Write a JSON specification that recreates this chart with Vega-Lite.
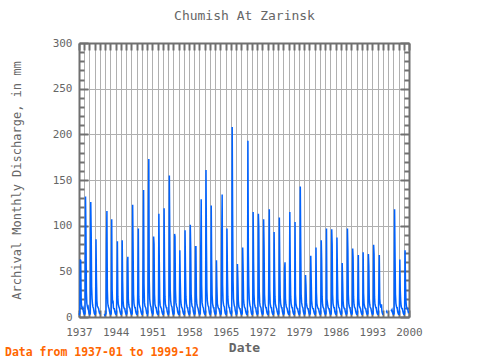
{
"$schema": "https://vega.github.io/schema/vega-lite/v6.json",
"width": 330, "height": 274,
"autosize": "none",
"padding": {"left": 79, "top": 43, "right": 71, "bottom": 43},
"background": "white",
"title": {"text": "Data from 1937-01 to 1999-12", "orient": "bottom", "anchor": "start", "frame": "group", "dx": -74, "dy": -7, "offset": 0, "font": "DejaVu Sans Mono", "fontSize": 11.5, "fontWeight": "bold", "color": "#ff6600"},
"config": {"view": {"stroke": null}, "axis": {"domainColor": "#707070", "domainWidth": 2, "tickColor": "#707070", "tickWidth": 2, "gridColor": "#b0b0b0", "gridWidth": 1, "labelFont": "DejaVu Sans Mono", "labelFontSize": 11, "labelColor": "#666666", "titleFont": "DejaVu Sans Mono", "titleColor": "#666666", "labelFlush": false}},
"data": {"values": [
{"d":"1937-01","v":4},{"d":"1937-02","v":3},{"d":"1937-03","v":4},{"d":"1937-04","v":63},{"d":"1937-05","v":62},{"d":"1937-06","v":20},{"d":"1937-07","v":12},{"d":"1937-08","v":10},{"d":"1937-09","v":9},{"d":"1937-10","v":10},{"d":"1937-11","v":6},{"d":"1937-12","v":4},
{"d":"1938-01","v":3},{"d":"1938-02","v":3},{"d":"1938-03","v":4},{"d":"1938-04","v":132},{"d":"1938-05","v":94},{"d":"1938-06","v":28},{"d":"1938-07","v":15},{"d":"1938-08","v":12},{"d":"1938-09","v":10},{"d":"1938-10","v":11},{"d":"1938-11","v":7},{"d":"1938-12","v":4},
{"d":"1939-01","v":3},{"d":"1939-02","v":3},{"d":"1939-03","v":4},{"d":"1939-04","v":126},{"d":"1939-05","v":92},{"d":"1939-06","v":33},{"d":"1939-07","v":20},{"d":"1939-08","v":14},{"d":"1939-09","v":11},{"d":"1939-10","v":10},{"d":"1939-11","v":7},{"d":"1939-12","v":4},
{"d":"1940-01","v":3},{"d":"1940-02","v":3},{"d":"1940-03","v":4},{"d":"1940-04","v":85},{"d":"1940-05","v":42},{"d":"1940-06","v":18},{"d":"1940-07","v":12},{"d":"1940-08","v":11},{"d":"1940-09","v":10},{"d":"1940-10","v":9},{"d":"1940-11","v":6},{"d":"1940-12","v":4},
{"d":"1941-01","v":3},{"d":"1941-02","v":null},{"d":"1941-03","v":null},{"d":"1941-04","v":null},{"d":"1941-05","v":null},{"d":"1941-06","v":null},{"d":"1941-07","v":null},{"d":"1941-08","v":null},{"d":"1941-09","v":null},{"d":"1941-10","v":null},{"d":"1941-11","v":3},{"d":"1941-12","v":2},
{"d":"1942-01","v":3},{"d":"1942-02","v":3},{"d":"1942-03","v":4},{"d":"1942-04","v":79},{"d":"1942-05","v":116},{"d":"1942-06","v":30},{"d":"1942-07","v":15},{"d":"1942-08","v":12},{"d":"1942-09","v":10},{"d":"1942-10","v":9},{"d":"1942-11","v":6},{"d":"1942-12","v":4},
{"d":"1943-01","v":3},{"d":"1943-02","v":3},{"d":"1943-03","v":4},{"d":"1943-04","v":107},{"d":"1943-05","v":30},{"d":"1943-06","v":15},{"d":"1943-07","v":18},{"d":"1943-08","v":10},{"d":"1943-09","v":9},{"d":"1943-10","v":9},{"d":"1943-11","v":6},{"d":"1943-12","v":4},
{"d":"1944-01","v":3},{"d":"1944-02","v":3},{"d":"1944-03","v":4},{"d":"1944-04","v":41},{"d":"1944-05","v":83},{"d":"1944-06","v":22},{"d":"1944-07","v":14},{"d":"1944-08","v":12},{"d":"1944-09","v":10},{"d":"1944-10","v":9},{"d":"1944-11","v":6},{"d":"1944-12","v":4},
{"d":"1945-01","v":3},{"d":"1945-02","v":3},{"d":"1945-03","v":4},{"d":"1945-04","v":84},{"d":"1945-05","v":40},{"d":"1945-06","v":18},{"d":"1945-07","v":12},{"d":"1945-08","v":10},{"d":"1945-09","v":9},{"d":"1945-10","v":9},{"d":"1945-11","v":6},{"d":"1945-12","v":4},
{"d":"1946-01","v":3},{"d":"1946-02","v":3},{"d":"1946-03","v":4},{"d":"1946-04","v":61},{"d":"1946-05","v":66},{"d":"1946-06","v":20},{"d":"1946-07","v":14},{"d":"1946-08","v":11},{"d":"1946-09","v":10},{"d":"1946-10","v":9},{"d":"1946-11","v":6},{"d":"1946-12","v":4},
{"d":"1947-01","v":3},{"d":"1947-02","v":3},{"d":"1947-03","v":4},{"d":"1947-04","v":123},{"d":"1947-05","v":76},{"d":"1947-06","v":25},{"d":"1947-07","v":15},{"d":"1947-08","v":12},{"d":"1947-09","v":10},{"d":"1947-10","v":10},{"d":"1947-11","v":6},{"d":"1947-12","v":4},
{"d":"1948-01","v":3},{"d":"1948-02","v":3},{"d":"1948-03","v":4},{"d":"1948-04","v":48},{"d":"1948-05","v":97},{"d":"1948-06","v":22},{"d":"1948-07","v":14},{"d":"1948-08","v":12},{"d":"1948-09","v":10},{"d":"1948-10","v":9},{"d":"1948-11","v":6},{"d":"1948-12","v":4},
{"d":"1949-01","v":3},{"d":"1949-02","v":3},{"d":"1949-03","v":5},{"d":"1949-04","v":69},{"d":"1949-05","v":139},{"d":"1949-06","v":36},{"d":"1949-07","v":16},{"d":"1949-08","v":12},{"d":"1949-09","v":11},{"d":"1949-10","v":10},{"d":"1949-11","v":7},{"d":"1949-12","v":4},
{"d":"1950-01","v":4},{"d":"1950-02","v":3},{"d":"1950-03","v":5},{"d":"1950-04","v":112},{"d":"1950-05","v":173},{"d":"1950-06","v":40},{"d":"1950-07","v":20},{"d":"1950-08","v":15},{"d":"1950-09","v":12},{"d":"1950-10","v":11},{"d":"1950-11","v":7},{"d":"1950-12","v":5},
{"d":"1951-01","v":4},{"d":"1951-02","v":3},{"d":"1951-03","v":4},{"d":"1951-04","v":88},{"d":"1951-05","v":80},{"d":"1951-06","v":25},{"d":"1951-07","v":14},{"d":"1951-08","v":12},{"d":"1951-09","v":10},{"d":"1951-10","v":10},{"d":"1951-11","v":6},{"d":"1951-12","v":4},
{"d":"1952-01","v":3},{"d":"1952-02","v":3},{"d":"1952-03","v":4},{"d":"1952-04","v":113},{"d":"1952-05","v":60},{"d":"1952-06","v":20},{"d":"1952-07","v":13},{"d":"1952-08","v":11},{"d":"1952-09","v":10},{"d":"1952-10","v":9},{"d":"1952-11","v":6},{"d":"1952-12","v":4},
{"d":"1953-01","v":3},{"d":"1953-02","v":3},{"d":"1953-03","v":4},{"d":"1953-04","v":119},{"d":"1953-05","v":55},{"d":"1953-06","v":22},{"d":"1953-07","v":14},{"d":"1953-08","v":12},{"d":"1953-09","v":10},{"d":"1953-10","v":10},{"d":"1953-11","v":6},{"d":"1953-12","v":4},
{"d":"1954-01","v":3},{"d":"1954-02","v":3},{"d":"1954-03","v":5},{"d":"1954-04","v":155},{"d":"1954-05","v":95},{"d":"1954-06","v":30},{"d":"1954-07","v":18},{"d":"1954-08","v":14},{"d":"1954-09","v":12},{"d":"1954-10","v":11},{"d":"1954-11","v":7},{"d":"1954-12","v":4},
{"d":"1955-01","v":3},{"d":"1955-02","v":3},{"d":"1955-03","v":4},{"d":"1955-04","v":91},{"d":"1955-05","v":88},{"d":"1955-06","v":30},{"d":"1955-07","v":16},{"d":"1955-08","v":13},{"d":"1955-09","v":11},{"d":"1955-10","v":10},{"d":"1955-11","v":6},{"d":"1955-12","v":4},
{"d":"1956-01","v":3},{"d":"1956-02","v":3},{"d":"1956-03","v":4},{"d":"1956-04","v":73},{"d":"1956-05","v":40},{"d":"1956-06","v":20},{"d":"1956-07","v":14},{"d":"1956-08","v":11},{"d":"1956-09","v":10},{"d":"1956-10","v":9},{"d":"1956-11","v":6},{"d":"1956-12","v":4},
{"d":"1957-01","v":3},{"d":"1957-02","v":3},{"d":"1957-03","v":4},{"d":"1957-04","v":95},{"d":"1957-05","v":52},{"d":"1957-06","v":22},{"d":"1957-07","v":15},{"d":"1957-08","v":12},{"d":"1957-09","v":10},{"d":"1957-10","v":10},{"d":"1957-11","v":6},{"d":"1957-12","v":4},
{"d":"1958-01","v":3},{"d":"1958-02","v":3},{"d":"1958-03","v":4},{"d":"1958-04","v":101},{"d":"1958-05","v":75},{"d":"1958-06","v":25},{"d":"1958-07","v":16},{"d":"1958-08","v":12},{"d":"1958-09","v":11},{"d":"1958-10","v":10},{"d":"1958-11","v":6},{"d":"1958-12","v":4},
{"d":"1959-01","v":3},{"d":"1959-02","v":3},{"d":"1959-03","v":4},{"d":"1959-04","v":77},{"d":"1959-05","v":77},{"d":"1959-06","v":22},{"d":"1959-07","v":14},{"d":"1959-08","v":12},{"d":"1959-09","v":10},{"d":"1959-10","v":9},{"d":"1959-11","v":6},{"d":"1959-12","v":4},
{"d":"1960-01","v":3},{"d":"1960-02","v":3},{"d":"1960-03","v":4},{"d":"1960-04","v":77},{"d":"1960-05","v":129},{"d":"1960-06","v":35},{"d":"1960-07","v":16},{"d":"1960-08","v":13},{"d":"1960-09","v":11},{"d":"1960-10","v":10},{"d":"1960-11","v":6},{"d":"1960-12","v":4},
{"d":"1961-01","v":3},{"d":"1961-02","v":3},{"d":"1961-03","v":5},{"d":"1961-04","v":161},{"d":"1961-05","v":80},{"d":"1961-06","v":30},{"d":"1961-07","v":18},{"d":"1961-08","v":14},{"d":"1961-09","v":12},{"d":"1961-10","v":11},{"d":"1961-11","v":7},{"d":"1961-12","v":4},
{"d":"1962-01","v":3},{"d":"1962-02","v":3},{"d":"1962-03","v":5},{"d":"1962-04","v":122},{"d":"1962-05","v":60},{"d":"1962-06","v":24},{"d":"1962-07","v":15},{"d":"1962-08","v":12},{"d":"1962-09","v":10},{"d":"1962-10","v":10},{"d":"1962-11","v":6},{"d":"1962-12","v":4},
{"d":"1963-01","v":3},{"d":"1963-02","v":3},{"d":"1963-03","v":4},{"d":"1963-04","v":62},{"d":"1963-05","v":33},{"d":"1963-06","v":15},{"d":"1963-07","v":12},{"d":"1963-08","v":10},{"d":"1963-09","v":9},{"d":"1963-10","v":9},{"d":"1963-11","v":6},{"d":"1963-12","v":4},
{"d":"1964-01","v":3},{"d":"1964-02","v":3},{"d":"1964-03","v":4},{"d":"1964-04","v":91},{"d":"1964-05","v":134},{"d":"1964-06","v":35},{"d":"1964-07","v":18},{"d":"1964-08","v":14},{"d":"1964-09","v":12},{"d":"1964-10","v":11},{"d":"1964-11","v":7},{"d":"1964-12","v":4},
{"d":"1965-01","v":3},{"d":"1965-02","v":3},{"d":"1965-03","v":4},{"d":"1965-04","v":97},{"d":"1965-05","v":51},{"d":"1965-06","v":22},{"d":"1965-07","v":15},{"d":"1965-08","v":12},{"d":"1965-09","v":10},{"d":"1965-10","v":10},{"d":"1965-11","v":6},{"d":"1965-12","v":4},
{"d":"1966-01","v":4},{"d":"1966-02","v":3},{"d":"1966-03","v":5},{"d":"1966-04","v":208},{"d":"1966-05","v":112},{"d":"1966-06","v":40},{"d":"1966-07","v":20},{"d":"1966-08","v":15},{"d":"1966-09","v":12},{"d":"1966-10","v":11},{"d":"1966-11","v":7},{"d":"1966-12","v":5},
{"d":"1967-01","v":3},{"d":"1967-02","v":3},{"d":"1967-03","v":4},{"d":"1967-04","v":58},{"d":"1967-05","v":42},{"d":"1967-06","v":18},{"d":"1967-07","v":12},{"d":"1967-08","v":10},{"d":"1967-09","v":9},{"d":"1967-10","v":9},{"d":"1967-11","v":6},{"d":"1967-12","v":4},
{"d":"1968-01","v":3},{"d":"1968-02","v":3},{"d":"1968-03","v":4},{"d":"1968-04","v":76},{"d":"1968-05","v":53},{"d":"1968-06","v":20},{"d":"1968-07","v":14},{"d":"1968-08","v":11},{"d":"1968-09","v":10},{"d":"1968-10","v":9},{"d":"1968-11","v":6},{"d":"1968-12","v":4},
{"d":"1969-01","v":3},{"d":"1969-02","v":3},{"d":"1969-03","v":5},{"d":"1969-04","v":193},{"d":"1969-05","v":70},{"d":"1969-06","v":35},{"d":"1969-07","v":20},{"d":"1969-08","v":15},{"d":"1969-09","v":12},{"d":"1969-10","v":11},{"d":"1969-11","v":7},{"d":"1969-12","v":4},
{"d":"1970-01","v":3},{"d":"1970-02","v":3},{"d":"1970-03","v":4},{"d":"1970-04","v":115},{"d":"1970-05","v":60},{"d":"1970-06","v":25},{"d":"1970-07","v":15},{"d":"1970-08","v":12},{"d":"1970-09","v":10},{"d":"1970-10","v":10},{"d":"1970-11","v":6},{"d":"1970-12","v":4},
{"d":"1971-01","v":3},{"d":"1971-02","v":3},{"d":"1971-03","v":4},{"d":"1971-04","v":113},{"d":"1971-05","v":98},{"d":"1971-06","v":28},{"d":"1971-07","v":16},{"d":"1971-08","v":12},{"d":"1971-09","v":11},{"d":"1971-10","v":10},{"d":"1971-11","v":6},{"d":"1971-12","v":4},
{"d":"1972-01","v":3},{"d":"1972-02","v":3},{"d":"1972-03","v":4},{"d":"1972-04","v":107},{"d":"1972-05","v":78},{"d":"1972-06","v":25},{"d":"1972-07","v":15},{"d":"1972-08","v":12},{"d":"1972-09","v":10},{"d":"1972-10","v":10},{"d":"1972-11","v":6},{"d":"1972-12","v":4},
{"d":"1973-01","v":3},{"d":"1973-02","v":3},{"d":"1973-03","v":4},{"d":"1973-04","v":60},{"d":"1973-05","v":118},{"d":"1973-06","v":30},{"d":"1973-07","v":15},{"d":"1973-08","v":12},{"d":"1973-09","v":10},{"d":"1973-10","v":10},{"d":"1973-11","v":6},{"d":"1973-12","v":4},
{"d":"1974-01","v":3},{"d":"1974-02","v":3},{"d":"1974-03","v":4},{"d":"1974-04","v":93},{"d":"1974-05","v":50},{"d":"1974-06","v":22},{"d":"1974-07","v":14},{"d":"1974-08","v":12},{"d":"1974-09","v":10},{"d":"1974-10","v":9},{"d":"1974-11","v":6},{"d":"1974-12","v":4},
{"d":"1975-01","v":3},{"d":"1975-02","v":3},{"d":"1975-03","v":4},{"d":"1975-04","v":109},{"d":"1975-05","v":60},{"d":"1975-06","v":22},{"d":"1975-07","v":15},{"d":"1975-08","v":12},{"d":"1975-09","v":10},{"d":"1975-10","v":10},{"d":"1975-11","v":6},{"d":"1975-12","v":4},
{"d":"1976-01","v":3},{"d":"1976-02","v":3},{"d":"1976-03","v":4},{"d":"1976-04","v":53},{"d":"1976-05","v":60},{"d":"1976-06","v":20},{"d":"1976-07","v":14},{"d":"1976-08","v":11},{"d":"1976-09","v":10},{"d":"1976-10","v":9},{"d":"1976-11","v":6},{"d":"1976-12","v":4},
{"d":"1977-01","v":3},{"d":"1977-02","v":3},{"d":"1977-03","v":4},{"d":"1977-04","v":115},{"d":"1977-05","v":55},{"d":"1977-06","v":22},{"d":"1977-07","v":15},{"d":"1977-08","v":12},{"d":"1977-09","v":10},{"d":"1977-10","v":10},{"d":"1977-11","v":6},{"d":"1977-12","v":4},
{"d":"1978-01","v":3},{"d":"1978-02","v":3},{"d":"1978-03","v":4},{"d":"1978-04","v":104},{"d":"1978-05","v":25},{"d":"1978-06","v":15},{"d":"1978-07","v":12},{"d":"1978-08","v":10},{"d":"1978-09","v":9},{"d":"1978-10","v":9},{"d":"1978-11","v":6},{"d":"1978-12","v":4},
{"d":"1979-01","v":3},{"d":"1979-02","v":3},{"d":"1979-03","v":4},{"d":"1979-04","v":143},{"d":"1979-05","v":79},{"d":"1979-06","v":25},{"d":"1979-07","v":16},{"d":"1979-08","v":13},{"d":"1979-09","v":11},{"d":"1979-10","v":10},{"d":"1979-11","v":6},{"d":"1979-12","v":4},
{"d":"1980-01","v":3},{"d":"1980-02","v":3},{"d":"1980-03","v":4},{"d":"1980-04","v":46},{"d":"1980-05","v":35},{"d":"1980-06","v":16},{"d":"1980-07","v":12},{"d":"1980-08","v":10},{"d":"1980-09","v":9},{"d":"1980-10","v":9},{"d":"1980-11","v":6},{"d":"1980-12","v":4},
{"d":"1981-01","v":3},{"d":"1981-02","v":3},{"d":"1981-03","v":4},{"d":"1981-04","v":67},{"d":"1981-05","v":41},{"d":"1981-06","v":18},{"d":"1981-07","v":13},{"d":"1981-08","v":10},{"d":"1981-09","v":9},{"d":"1981-10","v":9},{"d":"1981-11","v":6},{"d":"1981-12","v":4},
{"d":"1982-01","v":3},{"d":"1982-02","v":3},{"d":"1982-03","v":4},{"d":"1982-04","v":76},{"d":"1982-05","v":27},{"d":"1982-06","v":15},{"d":"1982-07","v":12},{"d":"1982-08","v":10},{"d":"1982-09","v":9},{"d":"1982-10","v":9},{"d":"1982-11","v":6},{"d":"1982-12","v":4},
{"d":"1983-01","v":3},{"d":"1983-02","v":3},{"d":"1983-03","v":4},{"d":"1983-04","v":84},{"d":"1983-05","v":62},{"d":"1983-06","v":22},{"d":"1983-07","v":14},{"d":"1983-08","v":11},{"d":"1983-09","v":10},{"d":"1983-10","v":9},{"d":"1983-11","v":6},{"d":"1983-12","v":4},
{"d":"1984-01","v":3},{"d":"1984-02","v":3},{"d":"1984-03","v":4},{"d":"1984-04","v":97},{"d":"1984-05","v":20},{"d":"1984-06","v":16},{"d":"1984-07","v":12},{"d":"1984-08","v":10},{"d":"1984-09","v":9},{"d":"1984-10","v":9},{"d":"1984-11","v":6},{"d":"1984-12","v":4},
{"d":"1985-01","v":3},{"d":"1985-02","v":3},{"d":"1985-03","v":4},{"d":"1985-04","v":96},{"d":"1985-05","v":79},{"d":"1985-06","v":25},{"d":"1985-07","v":15},{"d":"1985-08","v":12},{"d":"1985-09","v":10},{"d":"1985-10","v":10},{"d":"1985-11","v":6},{"d":"1985-12","v":4},
{"d":"1986-01","v":3},{"d":"1986-02","v":3},{"d":"1986-03","v":4},{"d":"1986-04","v":87},{"d":"1986-05","v":49},{"d":"1986-06","v":20},{"d":"1986-07","v":14},{"d":"1986-08","v":11},{"d":"1986-09","v":10},{"d":"1986-10","v":9},{"d":"1986-11","v":6},{"d":"1986-12","v":4},
{"d":"1987-01","v":3},{"d":"1987-02","v":3},{"d":"1987-03","v":4},{"d":"1987-04","v":59},{"d":"1987-05","v":40},{"d":"1987-06","v":18},{"d":"1987-07","v":12},{"d":"1987-08","v":10},{"d":"1987-09","v":9},{"d":"1987-10","v":9},{"d":"1987-11","v":6},{"d":"1987-12","v":4},
{"d":"1988-01","v":3},{"d":"1988-02","v":3},{"d":"1988-03","v":4},{"d":"1988-04","v":97},{"d":"1988-05","v":74},{"d":"1988-06","v":25},{"d":"1988-07","v":15},{"d":"1988-08","v":12},{"d":"1988-09","v":10},{"d":"1988-10","v":10},{"d":"1988-11","v":6},{"d":"1988-12","v":4},
{"d":"1989-01","v":3},{"d":"1989-02","v":3},{"d":"1989-03","v":4},{"d":"1989-04","v":75},{"d":"1989-05","v":65},{"d":"1989-06","v":22},{"d":"1989-07","v":14},{"d":"1989-08","v":11},{"d":"1989-09","v":10},{"d":"1989-10","v":9},{"d":"1989-11","v":6},{"d":"1989-12","v":4},
{"d":"1990-01","v":3},{"d":"1990-02","v":3},{"d":"1990-03","v":4},{"d":"1990-04","v":35},{"d":"1990-05","v":68},{"d":"1990-06","v":20},{"d":"1990-07","v":13},{"d":"1990-08","v":11},{"d":"1990-09","v":10},{"d":"1990-10","v":9},{"d":"1990-11","v":6},{"d":"1990-12","v":4},
{"d":"1991-01","v":3},{"d":"1991-02","v":3},{"d":"1991-03","v":4},{"d":"1991-04","v":71},{"d":"1991-05","v":26},{"d":"1991-06","v":15},{"d":"1991-07","v":12},{"d":"1991-08","v":10},{"d":"1991-09","v":9},{"d":"1991-10","v":9},{"d":"1991-11","v":6},{"d":"1991-12","v":4},
{"d":"1992-01","v":3},{"d":"1992-02","v":3},{"d":"1992-03","v":4},{"d":"1992-04","v":69},{"d":"1992-05","v":56},{"d":"1992-06","v":20},{"d":"1992-07","v":14},{"d":"1992-08","v":11},{"d":"1992-09","v":10},{"d":"1992-10","v":9},{"d":"1992-11","v":6},{"d":"1992-12","v":4},
{"d":"1993-01","v":3},{"d":"1993-02","v":3},{"d":"1993-03","v":4},{"d":"1993-04","v":79},{"d":"1993-05","v":69},{"d":"1993-06","v":22},{"d":"1993-07","v":14},{"d":"1993-08","v":12},{"d":"1993-09","v":10},{"d":"1993-10","v":10},{"d":"1993-11","v":6},{"d":"1993-12","v":4},
{"d":"1994-01","v":3},{"d":"1994-02","v":3},{"d":"1994-03","v":4},{"d":"1994-04","v":35},{"d":"1994-05","v":68},{"d":"1994-06","v":20},{"d":"1994-07","v":14},{"d":"1994-08","v":12},{"d":"1994-09","v":10},{"d":"1994-10","v":14},{"d":"1994-11","v":6},{"d":"1994-12","v":4},
{"d":"1995-01","v":3},{"d":"1995-02","v":3},{"d":"1995-03","v":null},{"d":"1995-04","v":null},{"d":"1995-05","v":null},{"d":"1995-06","v":null},{"d":"1995-07","v":null},{"d":"1995-08","v":null},{"d":"1995-09","v":5},{"d":"1995-10","v":6},{"d":"1995-11","v":4},{"d":"1995-12","v":null},
{"d":"1996-01","v":null},{"d":"1996-02","v":null},{"d":"1996-03","v":null},{"d":"1996-04","v":null},{"d":"1996-05","v":null},{"d":"1996-06","v":null},{"d":"1996-07","v":null},{"d":"1996-08","v":8},{"d":"1996-09","v":7},{"d":"1996-10","v":8},{"d":"1996-11","v":5},{"d":"1996-12","v":4},
{"d":"1997-01","v":3},{"d":"1997-02","v":3},{"d":"1997-03","v":4},{"d":"1997-04","v":118},{"d":"1997-05","v":71},{"d":"1997-06","v":25},{"d":"1997-07","v":15},{"d":"1997-08","v":12},{"d":"1997-09","v":10},{"d":"1997-10","v":10},{"d":"1997-11","v":6},{"d":"1997-12","v":4},
{"d":"1998-01","v":3},{"d":"1998-02","v":3},{"d":"1998-03","v":4},{"d":"1998-04","v":63},{"d":"1998-05","v":30},{"d":"1998-06","v":18},{"d":"1998-07","v":12},{"d":"1998-08","v":10},{"d":"1998-09","v":9},{"d":"1998-10","v":9},{"d":"1998-11","v":6},{"d":"1998-12","v":4},
{"d":"1999-01","v":3},{"d":"1999-02","v":3},{"d":"1999-03","v":4},{"d":"1999-04","v":73},{"d":"1999-05","v":38},{"d":"1999-06","v":18},{"d":"1999-07","v":12},{"d":"1999-08","v":10},{"d":"1999-09","v":9},{"d":"1999-10","v":9},{"d":"1999-11","v":6},{"d":"1999-12","v":4}
]},
"layer": [
{"mark": {"type": "line", "color": "#0062ff", "strokeWidth": 1.5, "invalid": "break-paths-filter-domains"},
 "encoding": {
  "x": {"field": "d", "type": "temporal", "scale": {"type": "utc", "domain": [{"year": 1937, "utc": true}, {"year": 2000, "utc": true}]},
        "axis": {"orient": "bottom", "tickCount": {"interval": "year", "step": 1}, "tickSize": -7, "labelPadding": 16, "grid": true, "labelOverlap": false, "labelExpr": "(utcyear(datum.value) - 1937) % 7 === 0 ? utcFormat(datum.value, '%Y') : ''", "title": "Date", "titleFontSize": 13, "titleFontWeight": "bold", "titlePadding": 4}},
  "y": {"field": "v", "type": "quantitative", "scale": {"domain": [0, 300]},
        "axis": {"orient": "left", "values": [0,10,20,30,40,50,60,70,80,90,100,110,120,130,140,150,160,170,180,190,200,210,220,230,240,250,260,270,280,290,300], "tickSize": {"condition": {"test": "datum.value % 50 === 0", "value": -9}, "value": -5}, "gridOpacity": {"condition": {"test": "datum.value % 50 === 0", "value": 1}, "value": 0}, "grid": true, "labelPadding": 16, "labelExpr": "datum.value % 50 === 0 ? datum.label : ''", "title": "Archival Monthly Discharge, in mm", "titleFontSize": 12, "titleFontWeight": "normal", "titlePadding": 29}}
 }},
{"mark": {"type": "line", "opacity": 0, "invalid": "break-paths-filter-domains"},
 "encoding": {
  "x": {"field": "d", "type": "temporal", "axis": {"orient": "top", "tickCount": {"interval": "year", "step": 1}, "tickSize": -7, "labels": false, "grid": false, "title": "Chumish At Zarinsk", "titleFontSize": 13, "titleFontWeight": "normal", "titlePadding": 20}},
  "y": {"field": "v", "type": "quantitative", "axis": {"orient": "right", "values": [0,10,20,30,40,50,60,70,80,90,100,110,120,130,140,150,160,170,180,190,200,210,220,230,240,250,260,270,280,290,300], "tickSize": {"condition": {"test": "datum.value % 50 === 0", "value": -9}, "value": -5}, "labels": false, "grid": false, "title": null}}
 }}
],
"resolve": {"axis": {"x": "independent", "y": "independent"}}
}
